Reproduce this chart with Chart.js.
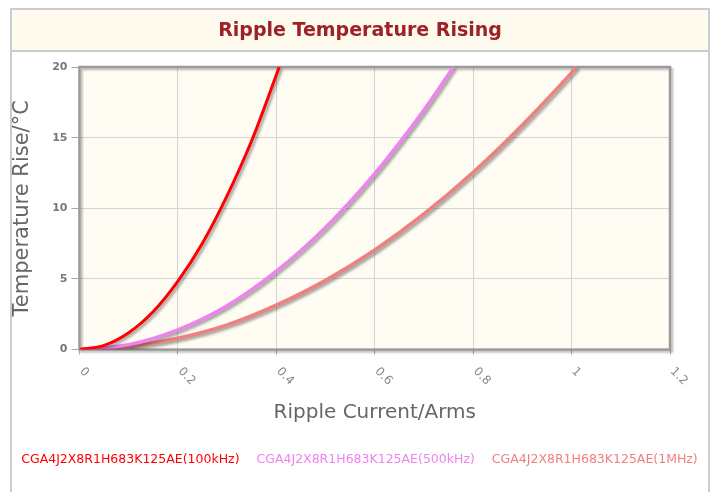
<!DOCTYPE html>
<html><head><meta charset="utf-8">
<script src="https://cdn.jsdelivr.net/npm/chart.js@4/dist/chart.umd.min.js"></script>
<style>html,body{margin:0;padding:0;background:#fff;}#wrap{width:717px;height:492px;}</style>
</head><body><div id="wrap"><canvas id="c" width="717" height="492"></canvas></div>
<script>
const titleText = "Ripple Temperature Rising";
const xTitle = "Ripple Current/Arms";
const yTitle = "Temperature Rise/°C";
const xTicks = [0, 0.2, 0.4, 0.6, 0.8, 1, 1.2];
const xTickLabels = ["0", "0.2", "0.4", "0.6", "0.8", "1", "1.2"];
const yTicks = [0, 5, 10, 15, 20];
const seriesNames = ["CGA4J2X8R1H683K125AE(100kHz)", "CGA4J2X8R1H683K125AE(500kHz)", "CGA4J2X8R1H683K125AE(1MHz)"];
const seriesColors = ["#ff0000", "#ee82ee", "#f08080"];
const x100k = [0, 0.05, 0.1, 0.15, 0.2, 0.25, 0.3, 0.35, 0.406];
const y100k = [0, 0.3, 1.2, 2.7, 4.85, 7.55, 10.9, 14.8, 20];
const x500k = [0, 0.1, 0.2, 0.3, 0.4, 0.5, 0.6, 0.7, 0.76];
const y500k = [0, 0.35, 1.4, 3.1, 5.55, 8.65, 12.45, 16.95, 20];
const x1M = [0, 0.1, 0.2, 0.3, 0.4, 0.5, 0.6, 0.7, 0.8, 0.9, 1.0, 1.01];
const y1M = [0, 0.2, 0.8, 1.75, 3.15, 4.9, 7.05, 9.6, 12.55, 15.9, 19.6, 20];

const pts = (xs, ys) => xs.map((x, i) => ({x, y: ys[i]}));
const seriesData = [pts(x100k, y100k), pts(x500k, y500k), pts(x1M, y1M)];

const framePlugin = {
  id: 'frame',
  beforeDraw(chart) {
    const ctx = chart.ctx;
    ctx.save();
    ctx.strokeStyle = '#cccccc';
    ctx.lineWidth = 2;
    ctx.fillStyle = '#fefaee';
    ctx.fillRect(11, 9, 698, 42);
    ctx.beginPath();
    ctx.moveTo(11, 500); ctx.lineTo(11, 9); ctx.lineTo(709, 9); ctx.lineTo(709, 500);
    ctx.moveTo(11, 51); ctx.lineTo(709, 51);
    ctx.stroke();
    ctx.fillStyle = '#9b2226';
    ctx.font = 'bold 19px "DejaVu Sans"';
    ctx.textAlign = 'center';
    ctx.textBaseline = 'middle';
    ctx.fillText(titleText, 360, 31);
    const a = chart.chartArea;
    ctx.fillStyle = '#fffcf3';
    ctx.fillRect(a.left, a.top, a.right - a.left, a.bottom - a.top);
    ctx.restore();
  },
  beforeDatasetsDraw(chart) {
    const ctx = chart.ctx;
    const a = chart.chartArea;
    ctx.save();
    ctx.shadowColor = 'rgba(0,0,0,0.25)';
    ctx.shadowBlur = 2;
    ctx.shadowOffsetX = 2;
    ctx.shadowOffsetY = 2;
    ctx.strokeStyle = '#9a9a9a';
    ctx.lineWidth = 2.5;
    ctx.strokeRect(a.left, a.top, a.right - a.left, a.bottom - a.top);
    ctx.restore();
  },
  beforeDatasetDraw(chart) {
    const ctx = chart.ctx;
    ctx.save();
    ctx.shadowColor = 'rgba(0,0,0,0.4)';
    ctx.shadowBlur = 3;
    ctx.shadowOffsetX = 2;
    ctx.shadowOffsetY = 2;
  },
  afterDatasetDraw(chart) {
    chart.ctx.restore();
  },
  afterDraw(chart) {
    const ctx = chart.ctx;
    const xs = chart.scales.x;
    const a = chart.chartArea;
    ctx.save();
    ctx.fillStyle = '#888888';
    ctx.font = '12px "DejaVu Sans"';
    ctx.textAlign = 'left';
    ctx.textBaseline = 'middle';
    xTicks.forEach((v, i) => {
      const px = xs.getPixelForValue(v);
      ctx.save();
      ctx.translate(px + 2, a.bottom + 20);
      ctx.rotate(Math.PI / 4);
      ctx.fillText(xTickLabels[i], 0, 0);
      ctx.restore();
    });
    ctx.font = '12.5px "DejaVu Sans"';
    const gap = 17;
    const widths = seriesNames.map(s => ctx.measureText(s).width);
    const total = widths.reduce((p, w) => p + w, 0) + gap * (seriesNames.length - 1);
    let x = 359.5 - total / 2;
    seriesNames.forEach((s, i) => {
      ctx.fillStyle = seriesColors[i];
      ctx.fillText(s, x, 460);
      x += widths[i] + gap;
    });
    ctx.restore();
  }
};

new Chart(document.getElementById('c'), {
  type: 'line',
  data: {
    datasets: seriesData.map((d, i) => ({
      label: seriesNames[i],
      data: d,
      borderColor: seriesColors[i],
      backgroundColor: seriesColors[i],
      borderWidth: i === 0 ? 3 : 3.5,
      pointRadius: 0,
      cubicInterpolationMode: 'monotone',
      fill: false
    }))
  },
  options: {
    responsive: false,
    animation: false,
    layout: { padding: { left: 10, right: 47, top: 67, bottom: 67 } },
    plugins: {
      tooltip: { enabled: false },
      title: { display: false },
      legend: { display: false }
    },
    scales: {
      x: {
        type: 'linear',
        min: 0, max: 1.2,
        afterBuildTicks(scale) { scale.ticks = xTicks.map(v => ({value: v})); },
        ticks: { color: 'transparent', padding: 16, maxRotation: 0, font: { size: 12 } },
        grid: { color: '#d4d4d4', tickColor: '#aaaaaa', tickLength: 5, lineWidth: 1 },
        border: { display: false },
        title: { display: true, text: xTitle, color: '#666666', font: { family: '"DejaVu Sans"', size: 20 }, padding: { top: 0, bottom: 0 } }
      },
      y: {
        type: 'linear',
        min: 0, max: 20,
        afterBuildTicks(scale) { scale.ticks = yTicks.map(v => ({value: v})); },
        ticks: { color: '#777777', padding: 4, font: { family: '"DejaVu Sans"', size: 11, weight: 'bold' } },
        grid: { color: '#d4d4d4', tickColor: '#aaaaaa', tickLength: 8, lineWidth: 1 },
        border: { display: false },
        title: { display: true, text: yTitle, color: '#666666', font: { family: '"DejaVu Sans"', size: 21 }, padding: { top: 0, bottom: 13 } }
      }
    }
  },
  plugins: [framePlugin]
});
</script></body></html>
